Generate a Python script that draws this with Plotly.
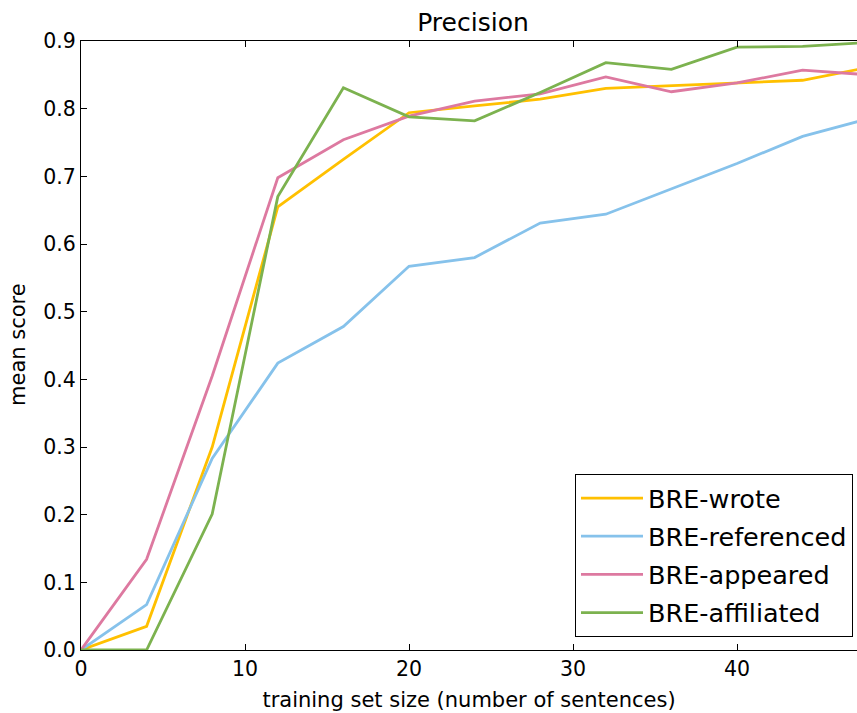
import plotly.graph_objects as go

sizes = [0, 4, 8, 12, 16, 20, 24, 28, 32, 36, 40, 44, 48]
bre_wrote = [0.0, 0.035, 0.300, 0.655, 0.725, 0.794, 0.804, 0.814, 0.830, 0.834, 0.838, 0.842, 0.861]
bre_referenced = [0.0, 0.067, 0.283, 0.424, 0.478, 0.567, 0.580, 0.631, 0.644, 0.682, 0.719, 0.759, 0.785]
bre_appeared = [0.0, 0.134, 0.405, 0.698, 0.754, 0.789, 0.811, 0.822, 0.847, 0.825, 0.838, 0.857, 0.850]
bre_affiliated = [0.0, 0.0, 0.201, 0.670, 0.831, 0.788, 0.782, 0.824, 0.868, 0.858, 0.891, 0.892, 0.898]

series = [
    ("BRE-wrote", bre_wrote, "#FFC000"),
    ("BRE-referenced", bre_referenced, "#86C2EB"),
    ("BRE-appeared", bre_appeared, "#DD79A0"),
    ("BRE-affiliated", bre_affiliated, "#7CB24F"),
]

FONT = "DejaVu Sans"
fig = go.Figure()
for i, (name, vals, col) in enumerate(series):
    fig.add_trace(go.Scatter(x=sizes, y=vals, mode="lines", name=name,
                             legendgroup=f"g{i}",
                             line=dict(color=col, width=2.8)))

fig.update_layout(
    width=857, height=713,
    margin=dict(l=81, r=0, t=41, b=63),
    paper_bgcolor="white", plot_bgcolor="white",
    font=dict(family=FONT, color="black", size=20),
    title=dict(text="Precision", x=(473) / 857, xanchor="center", xref="container",
               y=1 - 22 / 713, yanchor="middle", yref="container",
               font=dict(size=25, family=FONT, color="black")),
    showlegend=True,
    legend=dict(x=(853 - 81) / 776, xanchor="right", y=(650 - 637) / 609, yanchor="bottom",
                bordercolor="black", borderwidth=1, bgcolor="white",
                font=dict(size=25.5, family=FONT, color="black"),
                itemwidth=62, tracegroupgap=2),
    annotations=[dict(text="mean score", textangle=-90, xref="paper", yref="paper",
                      x=(18 - 81) / 776, y=(650 - 345) / 609, xanchor="center", yanchor="middle",
                      showarrow=False, font=dict(size=21, family=FONT, color="black"))],
)
fig.update_xaxes(range=[0, 776 / 16.4], showgrid=False, zeroline=False,
                 showline=True, linecolor="black", linewidth=1.3, mirror="ticks",
                 ticks="inside", ticklen=6, tickcolor="black",
                 tickvals=[0, 10, 20, 30, 40], ticktext=["0", "10", "20", "30", "40"],
                 tickfont=dict(size=20.5, family=FONT),
                 title=dict(text="training set size (number of sentences)",
                            font=dict(size=21, family=FONT), standoff=12))
fig.update_yaxes(range=[0, 0.9], showgrid=False, zeroline=False,
                 showline=True, linecolor="black", linewidth=1.3, mirror=False,
                 ticks="inside", ticklen=6, tickcolor="black",
                 tickvals=[0, 0.1, 0.2, 0.3, 0.4, 0.5, 0.6, 0.7, 0.8, 0.9],
                 ticktext=["0.0", "0.1", "0.2", "0.3", "0.4", "0.5", "0.6", "0.7", "0.8", "0.9"],
                 tickfont=dict(size=20.5, family=FONT))

fig.write_html("out.html")
